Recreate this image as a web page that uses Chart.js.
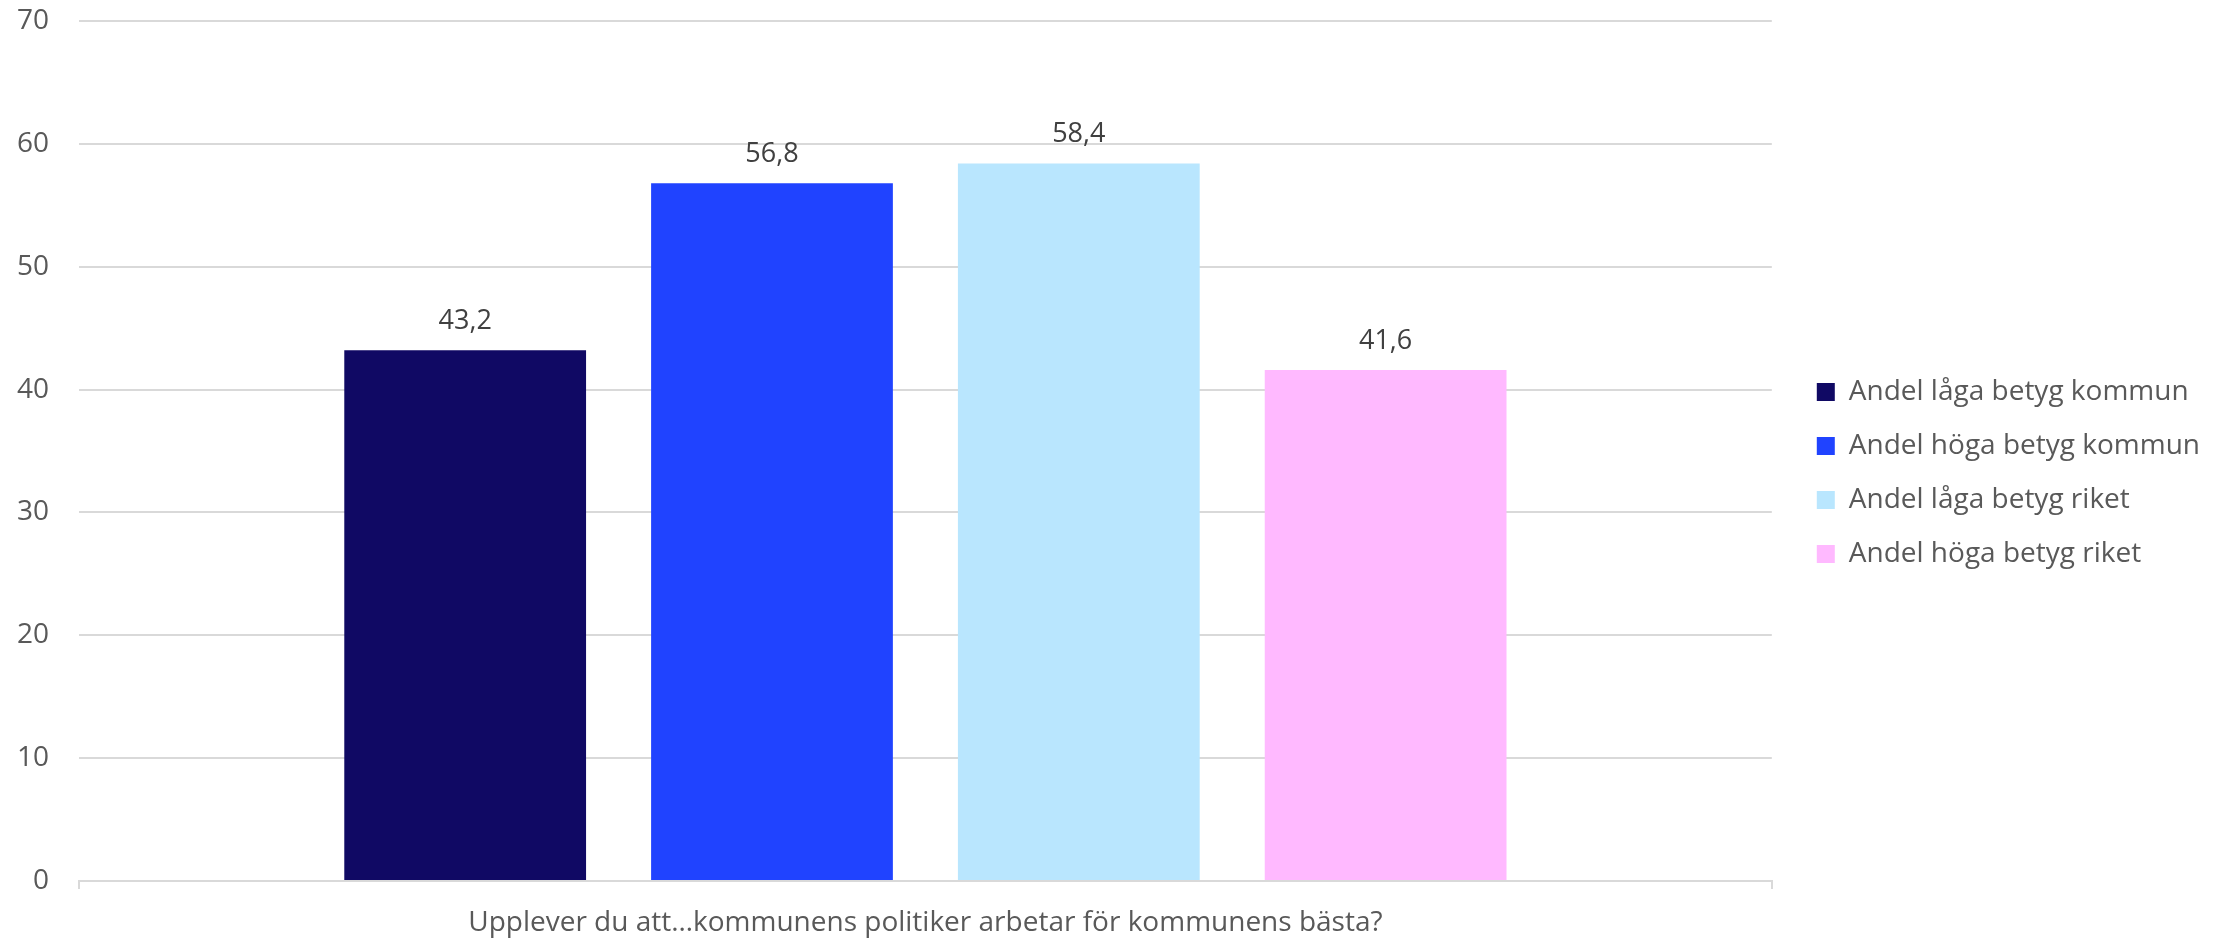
<!DOCTYPE html>
<html lang="sv">
<head>
  <meta charset="UTF-8">
  <title>Kommunens politiker</title>
  <style>
    html, body {
      margin: 0;
      padding: 0;
      background: #fff;
    }
    .wrap {
      width: 2219px;
      height: 941px;
      position: relative;
    }
  </style>
</head>
<body>
  <div class="wrap">
    <canvas id="chart"></canvas>
  </div>

  <script src="https://cdn.jsdelivr.net/npm/chart.js"></script>
  <script>
    // Data
    const categories = ["Upplever du att…kommunens politiker arbetar för kommunens bästa?"];
    const seriesNames = [
      "Andel låga betyg kommun",
      "Andel höga betyg kommun",
      "Andel låga betyg riket",
      "Andel höga betyg riket"
    ];
    const seriesValues = [43.2, 56.8, 58.4, 41.6];
    const seriesColors = ["#100964", "#2043FF", "#B9E6FE", "#FFB9FF"];
    const yTicks = [0, 10, 20, 30, 40, 50, 60, 70];

    const FONT = "'Open Sans', sans-serif";
    const TEXT = "#595959";

    // value labels above each bar
    const valueLabels = {
      id: "valueLabels",
      afterDatasetsDraw(chart) {
        const ctx = chart.ctx;
        ctx.save();
        ctx.font = "27px " + FONT;
        ctx.fillStyle = "#404040";
        ctx.textAlign = "center";
        ctx.textBaseline = "middle";
        chart.data.datasets.forEach((ds, i) => {
          chart.getDatasetMeta(i).data.forEach((bar, j) => {
            const txt = ds.data[j].toFixed(1).replace(".", ",");
            ctx.fillText(txt, bar.x, bar.y - 29);
          });
        });
        ctx.restore();
      }
    };

    new Chart(document.getElementById("chart"), {
      type: "bar",
      data: {
        labels: categories,
        datasets: seriesNames.map((name, i) => ({
          label: name,
          data: [seriesValues[i]],
          backgroundColor: seriesColors[i],
          categoryPercentage: 0.725,
          barPercentage: 0.788
        }))
      },
      options: {
        responsive: true,
        maintainAspectRatio: false,
        animation: false,
        layout: {
          padding: { top: 5, left: 17, right: 9, bottom: 0 }
        },
        plugins: {
          tooltip: { enabled: false },
          legend: {
            position: "right",
            maxWidth: 600,
            labels: {
              boxWidth: 18,
              boxHeight: 18,
              padding: 26,
              color: TEXT,
              font: { family: FONT, size: 28 }
            }
          }
        },
        scales: {
          x: {
            grid: {
              drawOnChartArea: false,
              drawTicks: true,
              tickLength: 8,
              color: "#d9d9d9",
              lineWidth: 2
            },
            border: { color: "#d9d9d9", width: 2 },
            ticks: {
              color: TEXT,
              padding: 17,
              maxRotation: 0,
              font: { family: FONT, size: 28 }
            },
            afterFit(scale) {
              scale.height = 60;
            }
          },
          y: {
            min: 0,
            max: 70,
            afterBuildTicks(scale) {
              scale.ticks = yTicks.map(v => ({ value: v }));
            },
            grid: {
              drawTicks: false,
              color: "#d9d9d9",
              lineWidth: 2
            },
            border: { display: false },
            ticks: {
              color: TEXT,
              padding: 30,
              font: { family: FONT, size: 28 }
            },
            afterFit(scale) {
              scale.width = 62;
              scale.paddingTop = 21;
              scale.paddingBottom = 0;
            }
          },
          gap: {
            position: "right",
            display: true,
            grid: { display: false },
            border: { display: false },
            ticks: { display: false },
            afterFit(scale) {
              scale.width = 19;
            }
          }
        }
      },
      plugins: [valueLabels]
    });
  </script>
</body>
</html>
